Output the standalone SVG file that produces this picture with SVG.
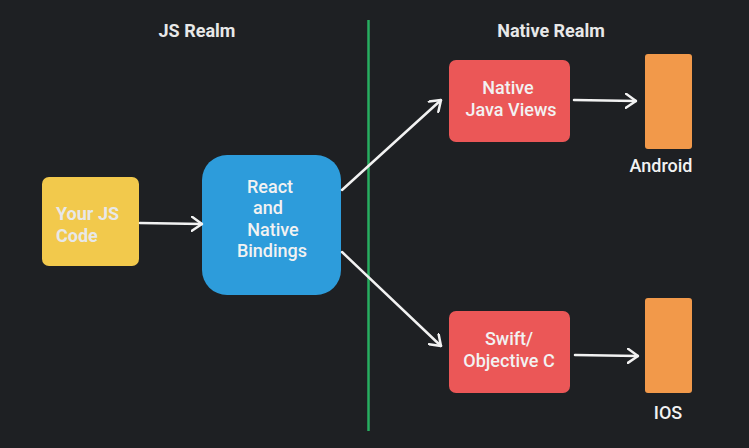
<svg xmlns="http://www.w3.org/2000/svg" width="749" height="448" viewBox="0 0 749 448">
<defs>
<style>
.t{font-family:Roboto,"Liberation Sans",sans-serif;font-size:18px;fill:#F2F2F2;font-weight:500}
.h{font-family:Roboto,"Liberation Sans",sans-serif;font-size:18px;fill:#E8E8E8;font-weight:700}
.c{stroke:#F2F2F2;stroke-width:2.5;fill:none;stroke-linecap:round;stroke-linejoin:round}
</style>
<marker id="ah" viewBox="0 0 12 16" refX="11" refY="8" markerWidth="12" markerHeight="16" markerUnits="userSpaceOnUse" orient="auto">
<path d="M1,1 L11,8 L1,15" fill="none" stroke="#F2F2F2" stroke-width="2.5" stroke-linecap="round" stroke-linejoin="round"/>
</marker>
</defs>
<rect width="749" height="448" fill="#1E2023"/>
<g id="titles">
<text class="h" x="197" y="37" text-anchor="middle">JS Realm</text>
<text class="h" x="551" y="37" text-anchor="middle">Native Realm</text>
</g>
<g id="divider"><line x1="368.5" y1="20" x2="368.5" y2="431" stroke="#27AE60" stroke-width="2.5"/></g>
<g id="yourjs">
<rect x="42" y="177" width="97" height="89" rx="7" fill="#F2C94C"/>
<text class="h" x="56" y="220" fill="#FFFFFF">Your JS</text>
<text class="h" x="56" y="242">Code</text>
</g>
<g id="bindings">
<rect x="202" y="155" width="139" height="140" rx="25" fill="#2D9CDB"/>
<text class="t" text-anchor="middle"><tspan x="270" y="193">React</tspan><tspan x="268" y="214">and</tspan><tspan x="273" y="236">Native</tspan><tspan x="272" y="257">Bindings</tspan></text>
</g>
<g id="javaviews">
<rect x="449" y="60" width="121" height="82" rx="7" fill="#EB5757"/>
<text class="t" text-anchor="middle"><tspan x="508" y="94">Native</tspan><tspan x="511" y="116">Java Views</tspan></text>
</g>
<g id="swift">
<rect x="449" y="311" width="121" height="82" rx="7" fill="#EB5757"/>
<text class="t" text-anchor="middle"><tspan x="509" y="345">Swift/</tspan><tspan x="509" y="367">Objective C</tspan></text>
</g>
<g id="android">
<rect x="645" y="54" width="47" height="95" rx="3" fill="#F2994A"/>
<text class="t" x="661" y="172" text-anchor="middle">Android</text>
</g>
<g id="ios">
<rect x="645" y="298" width="47" height="95" rx="3" fill="#F2994A"/>
<text class="t" x="668" y="419" text-anchor="middle">IOS</text>
</g>
<g id="connectors">
<path class="c" d="M140,223 L202,224" marker-end="url(#ah)"/>
<path class="c" d="M342,190 L441,100" marker-end="url(#ah)"/>
<path class="c" d="M342,252 L441,346" marker-end="url(#ah)"/>
<path class="c" d="M574,100 L636,101" marker-end="url(#ah)"/>
<path class="c" d="M575,355 L638,356" marker-end="url(#ah)"/>
</g>
</svg>
